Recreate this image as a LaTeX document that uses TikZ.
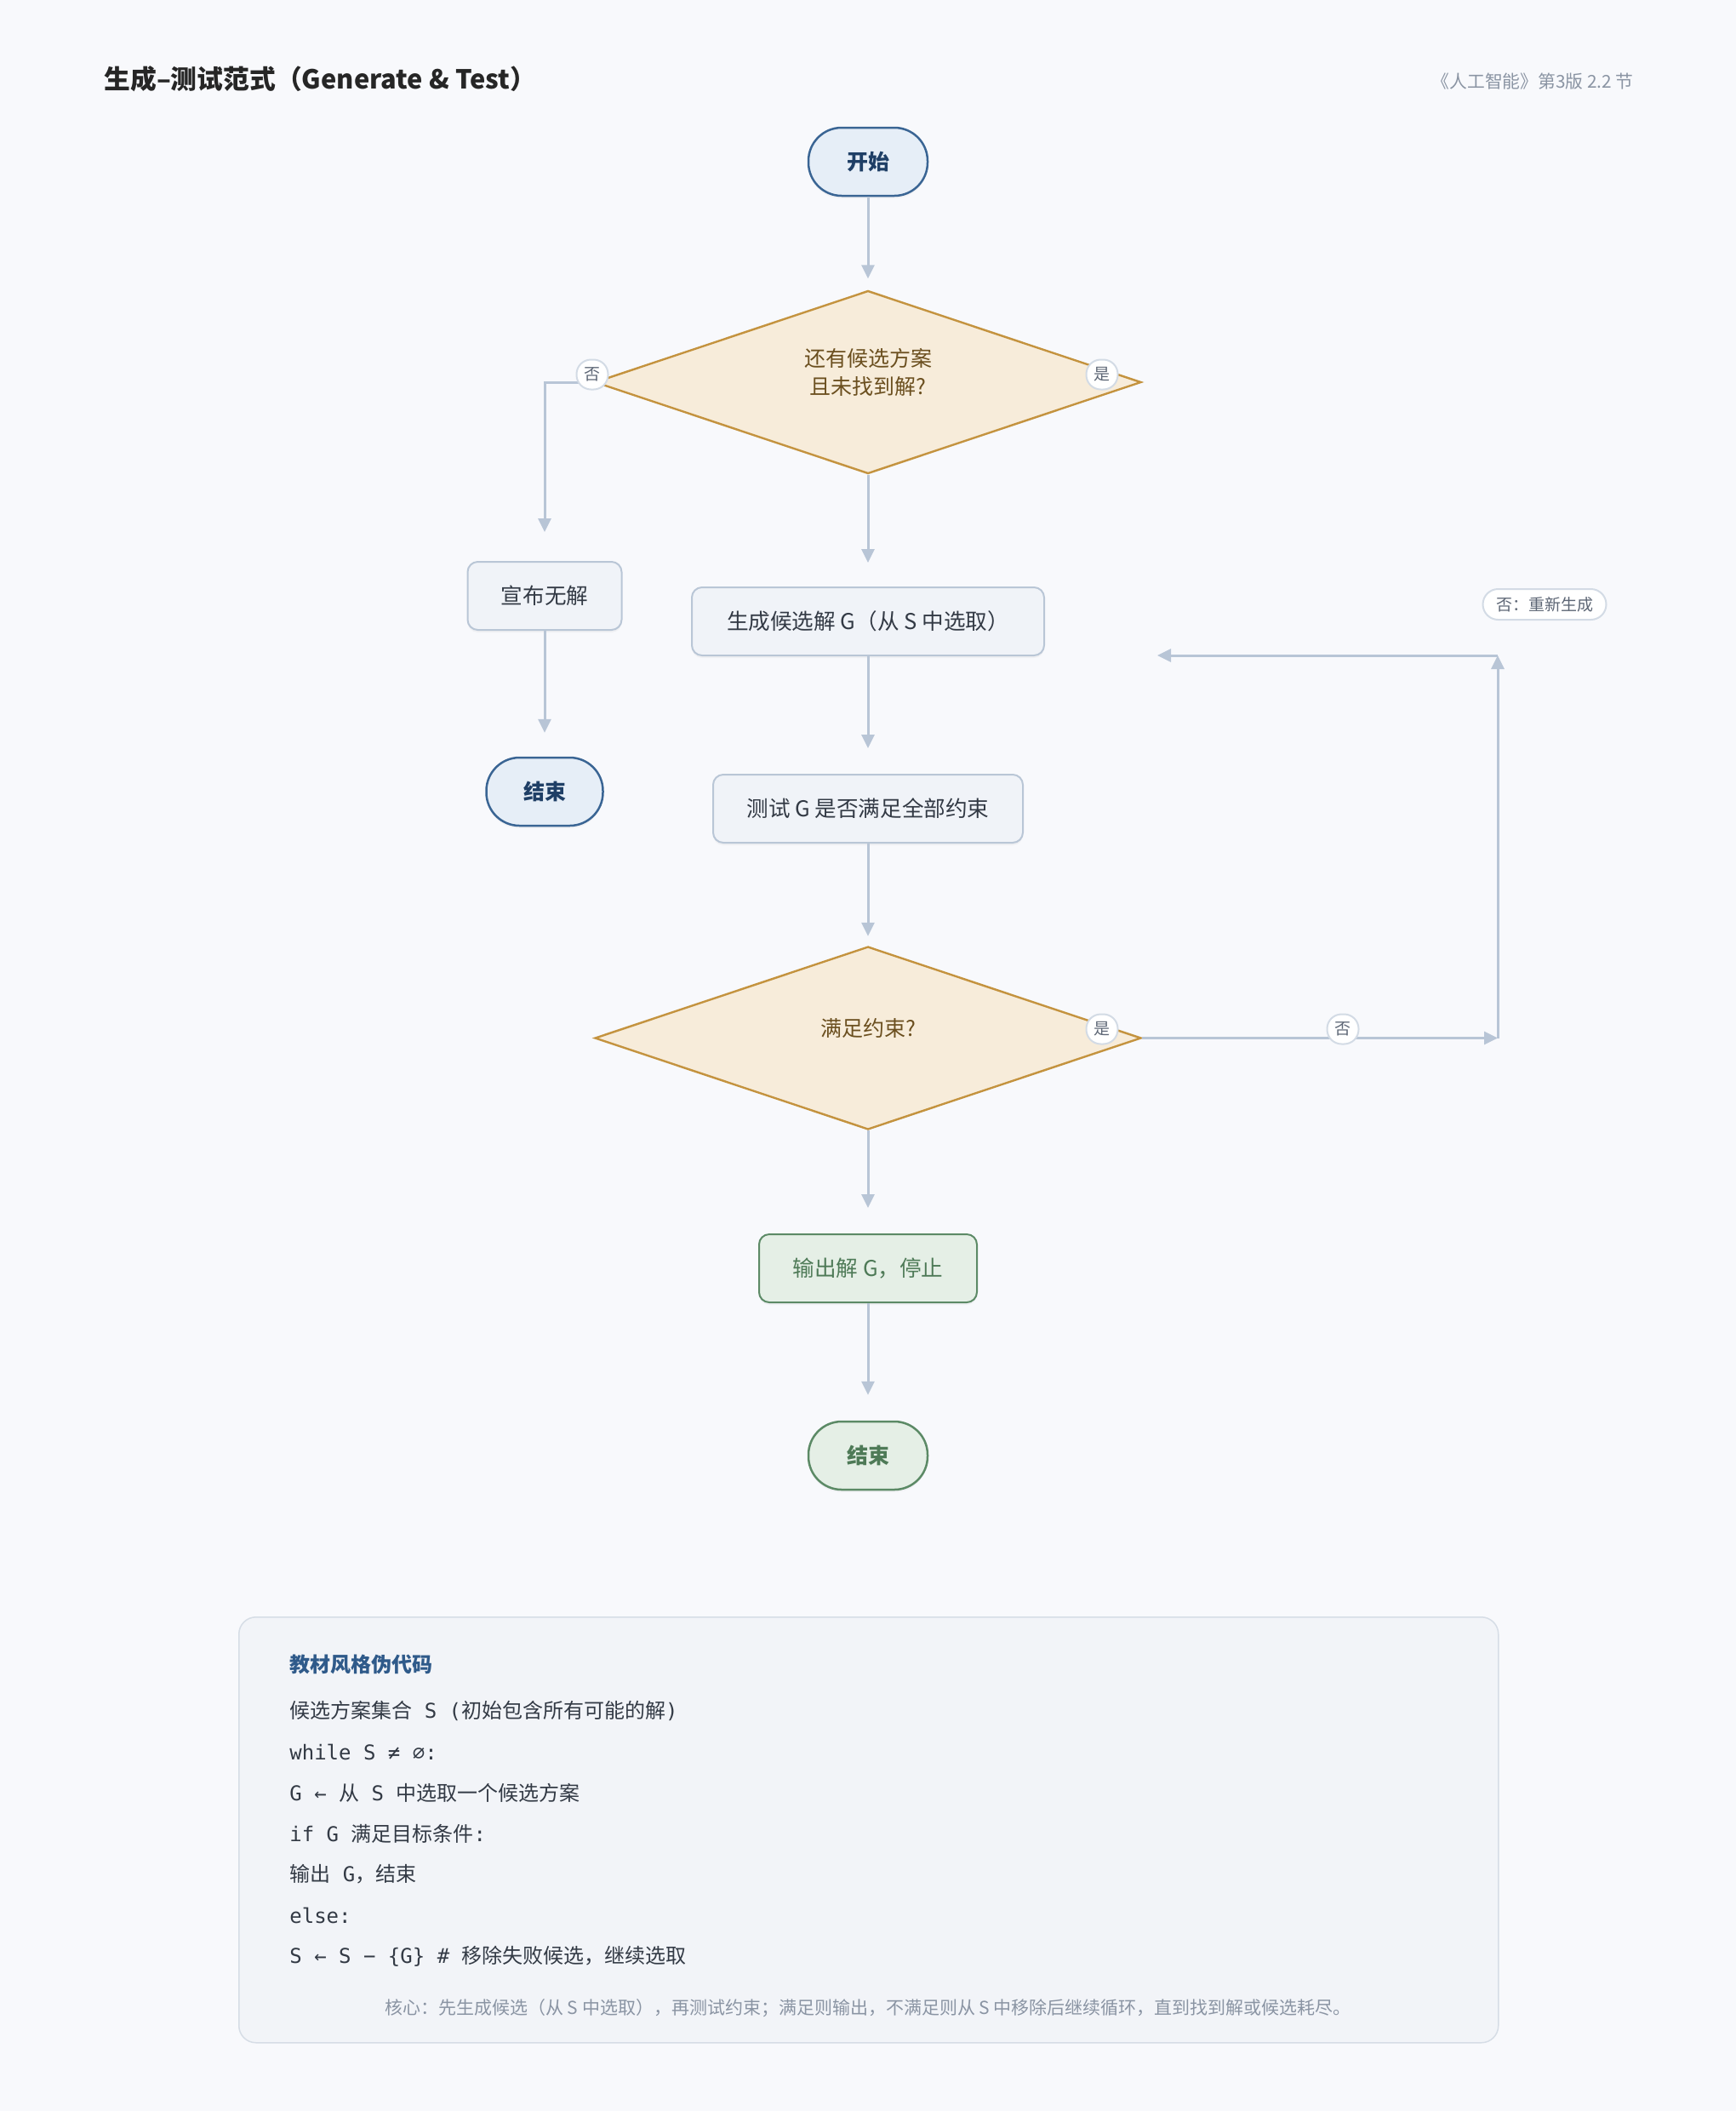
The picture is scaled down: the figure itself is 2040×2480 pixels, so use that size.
\documentclass[tikz,border=0pt]{standalone}
\usepackage{fontspec}
\setmainfont{Noto Sans CJK SC}
\newfontfamily\codefont{DejaVu Sans Mono}
\usetikzlibrary{shapes.geometric,arrows.meta,positioning,shadows}

\definecolor{pagebg}{HTML}{F8F9FC}
\definecolor{linkcol}{HTML}{B8C5D6}
\definecolor{boxfill}{HTML}{F0F3F8}
\definecolor{boxline}{HTML}{B9C6D6}
\definecolor{boxtext}{HTML}{333A45}
\definecolor{termfill}{HTML}{E6EEF7}
\definecolor{termline}{HTML}{3A6594}
\definecolor{termtext}{HTML}{1F3F66}
\definecolor{decfill}{HTML}{F7ECDA}
\definecolor{decline}{HTML}{C4933F}
\definecolor{dectext}{HTML}{6B4F1F}
\definecolor{okfill}{HTML}{E5EFE6}
\definecolor{okline}{HTML}{5C8A66}
\definecolor{oktext}{HTML}{4E7A57}
\definecolor{tagline}{HTML}{D3DBE5}
\definecolor{tagtext}{HTML}{5D6675}
\definecolor{greytext}{HTML}{8A94A3}
\definecolor{panelfill}{HTML}{F2F4F8}
\definecolor{panelline}{HTML}{D6DDE6}
\definecolor{headblue}{HTML}{2F5A8A}

\tikzset{softshadow/.style={drop shadow={opacity=0.07,shadow xshift=0pt,shadow yshift=-1.5pt}}}
\tikzset{terminal/.style={rectangle,rounded corners=19.5pt,draw=termline,fill=termfill,line width=1.25pt,text=termtext,font=\fontsize{12.5}{14}\selectfont\bfseries,minimum width=70pt,minimum height=40pt,softshadow}}
\tikzset{okterminal/.style={terminal,draw=okline,fill=okfill,text=oktext}}
\tikzset{procbox/.style={rectangle,rounded corners=6pt,draw=boxline,fill=boxfill,line width=1pt,text=boxtext,font=\fontsize{12.8}{14}\selectfont,minimum height=40pt,softshadow}}
\tikzset{okbox/.style={procbox,draw=okline,fill=okfill,text=oktext}}
\tikzset{decision/.style={diamond,aspect=3,inner sep=0pt,draw=decline,fill=decfill,line width=1.2pt,text=dectext,align=center,text depth=12.5pt,font=\fontsize{12.5}{16.5}\selectfont,minimum width=321pt,minimum height=107.5pt}}
\tikzset{tag/.style={rectangle,rounded corners=8.5pt,draw=tagline,fill=white,line width=1pt,text=tagtext,inner sep=0pt,font=\fontsize{9.5}{11}\selectfont,minimum width=18.5pt,minimum height=17.5pt}}
\tikzset{flow/.style={-{Triangle[width=7.5pt,length=8pt]},draw=linkcol,line width=1.5pt,shorten >=15pt}}
\tikzset{codeline/.style={anchor=west,inner sep=0pt,text=boxtext,font=\fontsize{12}{14}\selectfont}}

\begin{document}
\begin{tikzpicture}[x=0.5pt,y=-0.5pt]
\fill[pagebg] (0,0) rectangle (2040,2480);
\useasboundingbox (0,0) rectangle (2040,2480);

% heading
\node (title) [anchor=west,inner sep=0pt,text=black!85,font=\fontsize{15.4}{18}\selectfont\bfseries] at (122,93) {生成–测试范式（Generate \& Test）};
\node (source) [anchor=east,inner sep=0pt,text=greytext,font=\fontsize{10.4}{12}\selectfont] at (1920,96) {《人工智能》第3版 2.2 节};

% main column
\begin{scope}[on grid]
\node (start) [terminal] at (1020,190) {开始};
\node (cond) [decision, below=129.5pt of start] {还有候选方案\\且未找到解?};
\node (gen) [procbox, minimum width=207pt, below=140.5pt of cond] {生成候选解 G（从 S 中选取）};
\node (test) [procbox, minimum width=182pt, below=110pt of gen] {测试 G 是否满足全部约束};
\node (check) [decision, below=134.75pt of test] {满足约束?};
\node (output) [okbox, minimum width=128pt, below=135.25pt of check] {输出解 G，停止};
\node (stop) [okterminal, below=110pt of output] {结束};
\end{scope}

% no-solution branch
\node (nosol) [procbox, minimum width=90.5pt] at (640,700) {宣布无解};
\node (stopleft) [terminal, minimum width=68.5pt] at (640,930) {结束};

% loop back
\coordinate (loopA) at (1760,1219.5);
\coordinate (loopB) at (1760,770);
\coordinate (loopC) at (1360,770);

\draw[flow, shorten >=6.5pt] (start) -- (cond);
\draw[flow, shorten >=14pt] (cond) -- (gen);
\draw[flow] (gen) -- (test);
\draw[flow, shorten >=5.5pt] (test) -- (check);
\draw[flow] (check) -- (output);
\draw[flow] (output) -- (stop);
\draw[flow, shorten >=17pt] (cond.west) -| (nosol.north);
\draw[flow, shorten >=14pt] (nosol) -- (stopleft);
\draw[flow, shorten >=0pt] (check.east) -- (loopA);
\draw[flow, shorten >=0pt] (loopA) -- (loopB);
\draw[flow, shorten >=0pt] (loopB) -- (loopC);

% branch tags
\node (yes1) [tag] at (1295,440) {是};
\node (no1) [tag] at (696,440) {否};
\node (yes2) [tag] at (1295,1209) {是};
\node (no2) [tag] at (1578,1209) {否};
\node (regen) [tag, minimum width=72.5pt, minimum height=18pt, rounded corners=9pt] at (1815,710) {否：重新生成};

% pseudocode panel
\node (panel) [rectangle,rounded corners=10pt,draw=panelline,fill=panelfill,line width=0.75pt,anchor=north west,minimum width=740pt,minimum height=250pt] at (280,1899) {};
\node (codehead) [codeline, text=headblue, font=\fontsize{12}{14}\selectfont\bfseries] at (340,1955) {教材风格伪代码};
\node (code1) [codeline] at (340,2010) {候选方案集合{\codefont{} S (}初始包含所有可能的解{\codefont )}};
\node (code2) [codeline] at (340,2058) {\codefont while S ≠ ∅:};
\node (code3) [codeline] at (340,2106) {{\codefont G ← }从{\codefont{} S }中选取一个候选方案};
\node (code4) [codeline] at (340,2154) {{\codefont if G }满足目标条件{\codefont :}};
\node (code5) [codeline] at (340,2202) {输出{\codefont{} G}，结束};
\node (code6) [codeline] at (340,2250) {\codefont else:};
\node (code7) [codeline] at (340,2298) {{\codefont S ← S − \{G\} \# }移除失败候选，继续选取};
\node (note) [inner sep=0pt,text=greytext,font=\fontsize{10.5}{12}\selectfont] at (1020,2359) {核心：先生成候选（从 S 中选取），再测试约束；满足则输出，不满足则从 S 中移除后继续循环，直到找到解或候选耗尽。};
\end{tikzpicture}
\end{document}
